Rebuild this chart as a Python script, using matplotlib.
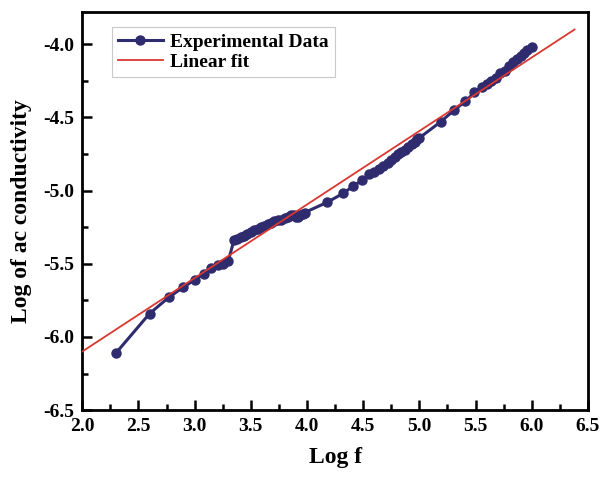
import matplotlib.pyplot as plt
from matplotlib.ticker import MultipleLocator

# data
logf = [2.30, 2.60, 2.77, 2.90, 3.00, 3.08, 3.15, 3.21, 3.25, 3.30,
        3.35, 3.38, 3.41, 3.44, 3.47, 3.50, 3.53, 3.56, 3.59, 3.62,
        3.65, 3.68, 3.71, 3.74, 3.77, 3.80, 3.83, 3.86, 3.88, 3.90,
        3.92, 3.94, 3.96, 3.98,
        4.18, 4.32, 4.41, 4.49, 4.55, 4.60, 4.64, 4.68, 4.72, 4.75,
        4.78, 4.81, 4.84, 4.87, 4.90, 4.93, 4.96, 4.98, 5.00,
        5.19, 5.31, 5.41, 5.49, 5.56, 5.60, 5.64, 5.68, 5.72, 5.76,
        5.80, 5.83, 5.87, 5.90, 5.93, 5.96, 6.00]
logsig = [-6.11, -5.84, -5.73, -5.66, -5.61, -5.57, -5.53, -5.51, -5.50, -5.48,
          -5.34, -5.33, -5.32, -5.31, -5.30, -5.28, -5.27, -5.26, -5.25, -5.24,
          -5.23, -5.22, -5.21, -5.20, -5.20, -5.19, -5.18, -5.17, -5.17, -5.18,
          -5.18, -5.17, -5.16, -5.15,
          -5.08, -5.02, -4.97, -4.93, -4.89, -4.87, -4.85, -4.83, -4.81, -4.79,
          -4.77, -4.75, -4.74, -4.72, -4.70, -4.68, -4.67, -4.65, -4.64,
          -4.53, -4.45, -4.39, -4.33, -4.29, -4.27, -4.25, -4.23, -4.20, -4.18,
          -4.15, -4.12, -4.10, -4.08, -4.06, -4.04, -4.02]

fit_x = [2.0, 6.38]
fit_y = [-6.10, -3.90]

plt.rcParams['font.family'] = ['Liberation Serif', 'DejaVu Serif']
plt.rcParams['font.weight'] = 'bold'

fig = plt.figure(figsize=(6, 4.78), dpi=100)
ax = fig.add_axes([0.137, 0.142, 0.843, 0.833])

ax.plot(logf, logsig, color='#2e2b6e', lw=2.2, marker='o', ms=6.5,
        label='Experimental Data', zorder=2)
ax.plot(fit_x, fit_y, color='#d9372f', lw=1.3, label='Linear fit', zorder=3)

ax.set_xlim(2.0, 6.5)
ax.set_ylim(-6.5, -3.78)
ax.xaxis.set_major_locator(MultipleLocator(0.5))
ax.xaxis.set_minor_locator(MultipleLocator(0.25))
ax.yaxis.set_major_locator(MultipleLocator(0.5))
ax.yaxis.set_minor_locator(MultipleLocator(0.25))
ax.xaxis.set_major_formatter(plt.FormatStrFormatter('%.1f'))
ax.yaxis.set_major_formatter(plt.FormatStrFormatter('%.1f'))
ax.tick_params(which='both', direction='in', width=1.8, labelsize=14, pad=6)
ax.tick_params(which='major', length=7)
ax.tick_params(which='minor', length=4)
for s in ax.spines.values():
    s.set_linewidth(2)

ax.set_xlabel('Log f', fontsize=17, fontweight='bold', labelpad=8)
ax.set_ylabel('Log of ac conductivity', fontsize=17, fontweight='bold', labelpad=8)

leg = ax.legend(loc='upper left', bbox_to_anchor=(0.059, 0.962), fontsize=14,
                fancybox=False, handlelength=2.3, borderpad=0.3,
                labelspacing=0.15, handletextpad=0.4, borderaxespad=0)
leg.get_frame().set_edgecolor('#bbbbbb')
leg.get_frame().set_linewidth(0.8)

fig.savefig('out.png', dpi=100)
